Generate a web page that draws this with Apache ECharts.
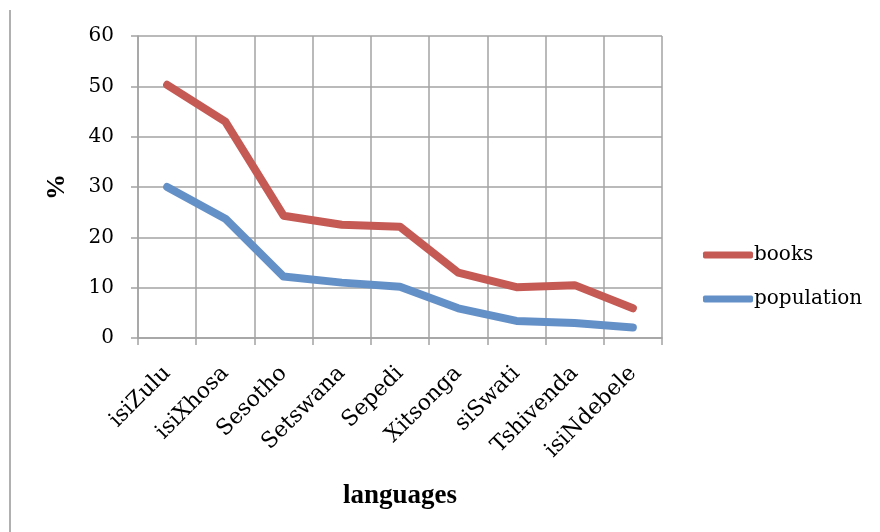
<!DOCTYPE html>
<html><head><meta charset="utf-8">
<script src="https://cdn.jsdelivr.net/npm/echarts@6/dist/echarts.min.js"></script>
<style>html,body{margin:0;padding:0;background:#fff}#c{width:880px;height:532px}</style>
</head><body><div id="c"></div>
<script>
const categories = ['isiZulu','isiXhosa','Sesotho','Setswana','Sepedi','Xitsonga','siSwati','Tshivenda','isiNdebele'];
const books = [50.3, 43.0, 24.3, 22.5, 22.1, 13.0, 10.1, 10.5, 5.9];
const population = [30.0, 23.7, 12.2, 11.0, 10.2, 5.9, 3.4, 3.0, 2.1];
const yTicks = {min: 0, max: 60, interval: 10};

const gridColor = '#a3a3a3';
const font = 'DejaVu Serif';
const chart = echarts.init(document.getElementById('c'));
chart.setOption({
  animation: false,
  backgroundColor: '#fff',
  grid: {left: 138, right: 218, top: 36, bottom: 194},
  graphic: [{type: 'line', shape: {x1: 10, y1: 10, x2: 10, y2: 532}, style: {stroke: '#b0b0b0', lineWidth: 2}}],
  legend: {
    orient: 'vertical', left: 698, top: 240, itemWidth: 50, itemHeight: 7, itemGap: 24,
    icon: 'roundRect',
    textStyle: {fontFamily: font, fontSize: 20, color: '#000', padding: [0,0,0,-4]},
    data: ['books', 'population']
  },
  xAxis: {
    type: 'category', data: categories, boundaryGap: true,
    axisLine: {lineStyle: {color: gridColor, width: 1.5}},
    axisTick: {show: true, length: 7, lineStyle: {color: gridColor, width: 1.5}},
    splitLine: {show: true, lineStyle: {color: gridColor, width: 1.5}},
    axisLabel: {rotate: 45, margin: 32, fontFamily: font, fontSize: 22, color: '#000', interval: 0},
    name: 'languages', nameLocation: 'middle', nameGap: 145,
    nameTextStyle: {fontFamily: 'Liberation Serif', fontWeight: 'bold', fontSize: 27, color: '#000', verticalAlign: 'top'}
  },
  yAxis: {
    type: 'value', min: yTicks.min, max: yTicks.max, interval: yTicks.interval,
    axisLine: {show: true, lineStyle: {color: gridColor, width: 1.5}},
    axisTick: {show: true, length: 7, lineStyle: {color: gridColor, width: 1.5}},
    splitLine: {show: true, lineStyle: {color: gridColor, width: 1.5}},
    axisLabel: {margin: 24, fontFamily: font, fontSize: 20, color: '#000'},
    name: '%', nameLocation: 'middle', nameGap: 68, nameRotate: 90,
    nameTextStyle: {fontFamily: 'Liberation Serif', fontWeight: 'bold', fontSize: 26, color: '#000'}
  },
  series: [
    {name: 'books', type: 'line', data: books, symbol: 'none', color: '#c55a55',
     lineStyle: {width: 8, cap: 'round', join: 'round', color: '#c55a55'}},
    {name: 'population', type: 'line', data: population, symbol: 'none', color: '#6490c8',
     lineStyle: {width: 8, cap: 'round', join: 'round', color: '#6490c8'}}
  ]
});
</script></body></html>
